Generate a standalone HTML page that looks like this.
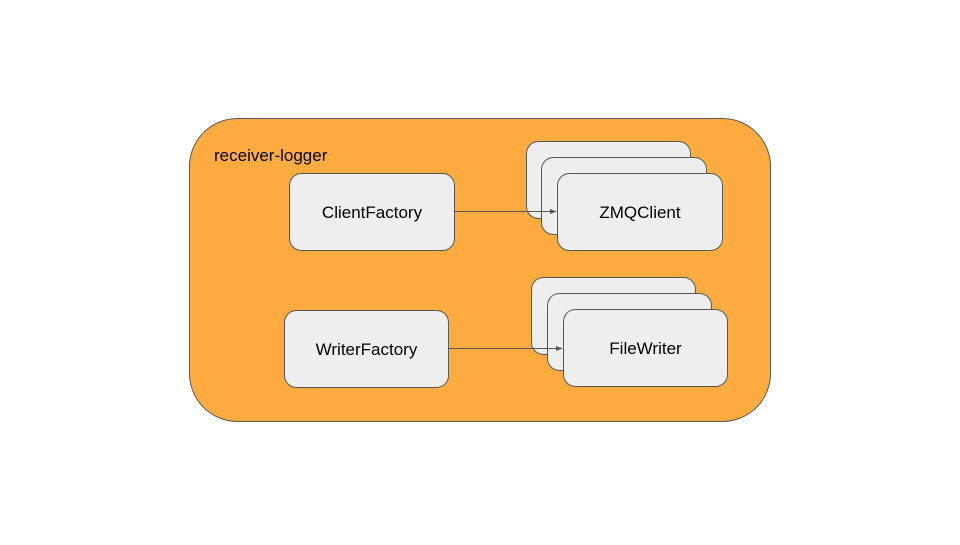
<!DOCTYPE html>
<html><head><style>body{margin:0;background:#fff}</style></head><body>
<svg width="960" height="540" xmlns="http://www.w3.org/2000/svg" font-family="Liberation Sans, Arial, sans-serif">
<rect x="189.5" y="118.5" width="581" height="303" rx="48" fill="#ffab40" stroke="#595959" stroke-width="1"/>
<text x="214" y="161" font-size="17" fill="#000">receiver-logger</text>
<g fill="#eeeeee" stroke="#595959" stroke-width="1">
<rect x="289.5" y="173.5" width="165" height="77" rx="12"/>
<rect x="284.5" y="310.5" width="164" height="77" rx="12"/>
<rect x="526.5" y="141.5" width="164" height="77" rx="12"/>
<rect x="541.5" y="157.5" width="165" height="77" rx="12"/>
<rect x="531.5" y="277.5" width="164" height="77" rx="12"/>
<rect x="547.5" y="293.5" width="164" height="77" rx="12"/>
</g>
<g stroke="#595959" stroke-width="1" fill="#595959">
<line x1="454" y1="211.5" x2="552" y2="211.5"/>
<path d="M557,211.5 L550,209 L550,214 Z" stroke="none"/>
<line x1="448" y1="348.5" x2="558" y2="348.5"/>
<path d="M563,348.5 L556,346 L556,351 Z" stroke="none"/>
</g>
<g fill="#eeeeee" stroke="#595959" stroke-width="1">
<rect x="557.5" y="173.5" width="165" height="77" rx="12"/>
<rect x="563.5" y="309.5" width="164" height="77" rx="12"/>
</g>
<g font-size="17" fill="#000" text-anchor="middle">
<text x="372" y="218">ClientFactory</text>
<text x="366.5" y="355">WriterFactory</text>
<text x="640" y="218">ZMQClient</text>
<text x="645.5" y="354">FileWriter</text>
</g>
</svg>
</body></html>
